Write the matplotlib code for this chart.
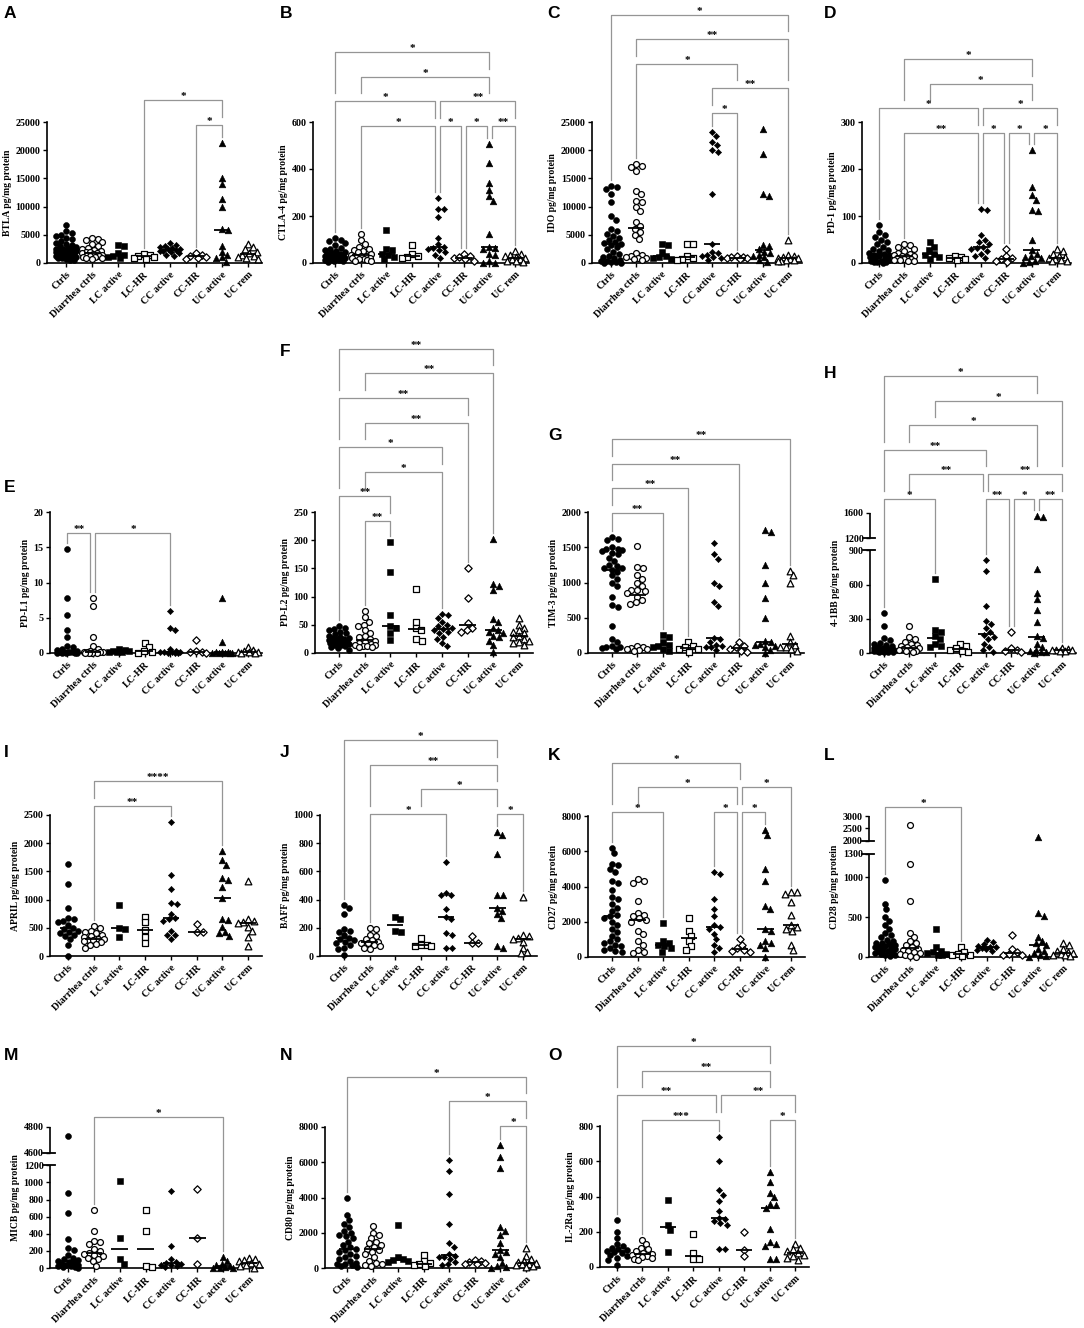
import numpy as np
import matplotlib
matplotlib.use("Agg")
import matplotlib.pyplot as plt
from matplotlib.transforms import blended_transform_factory

plt.rcParams['font.family'] = ['Liberation Serif', 'DejaVu Serif']
plt.rcParams['font.weight'] = 'bold'

categories = ["Ctrls", "Diarrhea ctrls", "LC active", "LC-HR", "CC active", "CC-HR", "UC active", "UC rem"]

btla = [
    [6800, 5600, 5300, 5000, 4700, 4500, 4200, 3900, 3600, 3400, 3200, 3000, 2800, 2600, 2500, 2400, 2300, 2200,
     2100, 2000, 1900, 1800, 1700, 1600, 1500, 1400, 1300, 1200, 1100, 1000, 900, 800, 700, 600, 500],
    [4500, 4300, 4100, 3700, 3400, 3000, 2700, 2500, 2300, 2100, 2000, 1900, 1800, 1700, 1600, 1500, 1400, 1300,
     1200, 1100, 1000, 900, 800, 700],
    [3200, 3000, 1800, 1500, 1300, 1100, 900],
    [1600, 1500, 1300, 1100, 900, 700],
    [3500, 3200, 3000, 2800, 2600, 2500, 2400, 2300, 2200, 2100, 2000, 1800, 1500, 1200],
    [1700, 1500, 1300, 1100, 900, 700],
    [21200, 15000, 14000, 11300, 10000, 6100, 5800, 3000, 2000, 1500, 1000, 800, 200],
    [3300, 2800, 2400, 2000, 1700, 1500, 1300, 1100, 900, 700],
]
ctla4 = [
    [105, 100, 95, 85, 75, 65, 60, 55, 50, 45, 42, 40, 38, 36, 34, 32, 30, 28, 26, 24, 22, 20, 18, 16, 14, 12, 10, 8, 6],
    [125, 100, 80, 70, 60, 55, 50, 45, 40, 35, 30, 28, 25, 22, 20, 18, 15, 12, 10, 8],
    [140, 60, 55, 40, 35, 25, 15],
    [75, 40, 30, 25, 20],
    [275, 230, 230, 195, 105, 80, 70, 65, 60, 55, 45, 35, 20],
    [40, 30, 25, 20, 15, 10],
    [505, 425, 340, 310, 285, 265, 125, 70, 65, 60, 40, 35, 10, 0, 0],
    [50, 40, 35, 30, 25, 20, 18, 15, 10, 8, 5],
]
ido = [
    [13700, 13400, 13200, 12200, 10800, 8300, 7700, 6000, 5700, 5200, 4800, 4400, 4000, 3700, 3500, 3400, 3200,
     2800, 2400, 2000, 1600, 1300, 1000, 800, 600, 400, 300, 200, 100, 50, 20],
    [17500, 17200, 17000, 16300, 12800, 12200, 11000, 10800, 10000, 9300, 7200, 6500, 6000, 5500, 5000, 4200,
     1800, 1500, 1200, 1000, 900, 800, 700, 600],
    [3300, 3200, 2000, 1300, 1100, 900, 700],
    [3300, 3300, 1200, 900, 700, 600],
    [23300, 22500, 21500, 21000, 20000, 19700, 12300, 3300, 2000, 1700, 1400, 1200, 1000, 800, 600],
    [1200, 1100, 1000, 900, 800, 700],
    [23700, 19400, 12200, 11800, 3200, 3100, 2500, 2000, 1800, 1500, 1200, 1000, 500, 100],
    [4000, 1500, 1200, 1000, 900, 800, 700, 600, 500, 400, 300],
]
pd1 = [
    [80, 65, 60, 55, 50, 45, 40, 35, 30, 28, 25, 22, 20, 18, 16, 14, 12, 10, 8, 6, 5, 4, 3, 2, 2, 1],
    [40, 38, 35, 30, 25, 22, 20, 18, 15, 14, 12, 10, 9, 8, 7, 6, 5, 4],
    [45, 35, 28, 20, 18, 12, 8],
    [15, 12, 10, 8, 6],
    [115, 112, 60, 50, 45, 40, 35, 32, 30, 25, 20, 15, 10],
    [30, 15, 10, 8, 5, 3],
    [240, 162, 145, 135, 112, 110, 50, 28, 20, 15, 12, 10, 5, 2, 0],
    [30, 25, 20, 15, 12, 10, 8, 6, 5, 4],
]
pdl1 = [
    [14.7, 7.8, 5.4, 3.2, 2.3, 1.0, 0.8, 0.5, 0.4, 0.3, 0.2, 0.2, 0.1, 0.1, 0.1, 0.05, 0.05, 0.05, 0, 0],
    [7.8, 6.7, 2.3, 1.0, 0.5, 0.3, 0.2, 0.2, 0.1, 0.1, 0.1, 0.05, 0.05, 0, 0],
    [0.5, 0.4, 0.3, 0.3, 0.2, 0.2, 0.1],
    [1.4, 0.8, 0.3, 0.1, 0.05],
    [6.0, 3.6, 3.2, 0.5, 0.3, 0.2, 0.2, 0.1, 0.1, 0.05, 0.05, 0],
    [1.8, 0.3, 0.2, 0.1, 0.05],
    [7.8, 1.6, 0.2, 0.1, 0.1, 0.05, 0.05, 0, 0, 0],
    [0.9, 0.4, 0.3, 0.2, 0.1, 0.1, 0.05, 0.05],
]
pdl2 = [
    [48, 45, 42, 40, 38, 35, 33, 30, 28, 27, 26, 25, 24, 23, 22, 21, 20, 19, 18, 17, 16, 15, 14, 12, 10, 8, 6],
    [75, 63, 55, 50, 48, 40, 35, 30, 28, 25, 22, 20, 18, 16, 15, 14, 13, 12, 11, 10],
    [197, 143, 67, 47, 45, 35, 23],
    [113, 55, 45, 40, 25, 22],
    [70, 68, 62, 55, 50, 48, 45, 42, 40, 38, 35, 28, 25, 18, 12],
    [150, 98, 53, 45, 40, 38],
    [202, 122, 118, 112, 60, 55, 45, 40, 38, 35, 30, 28, 22, 15, 2],
    [62, 50, 45, 40, 38, 35, 30, 28, 25, 22, 20, 18, 15],
]
tim3 = [
    [1650, 1620, 1600, 1500, 1480, 1470, 1460, 1450, 1420, 1400, 1350, 1300, 1250, 1230, 1210, 1200, 1180, 1150,
     1100, 1050, 1000, 950, 800, 680, 650, 380, 200, 150, 100, 90, 80, 70, 60],
    [1520, 1220, 1200, 1100, 1050, 1000, 950, 900, 900, 880, 850, 800, 750, 720, 700, 100, 80, 70, 60, 50, 40, 30],
    [250, 220, 150, 120, 100, 80, 50, 30],
    [150, 100, 80, 60, 50, 20],
    [1560, 1400, 1340, 1000, 950, 720, 660, 210, 200, 150, 120, 100, 90, 80, 40],
    [150, 100, 80, 50, 30, 20],
    [1740, 1720, 1250, 990, 780, 500, 170, 150, 130, 120, 100, 80, 40, 0],
    [1170, 1100, 990, 240, 150, 110, 90, 80, 50, 30],
]
ibb4 = [
    [355, 235, 130, 110, 90, 80, 70, 60, 50, 45, 40, 35, 30, 28, 25, 22, 20, 18, 15, 12, 10, 8, 5],
    [240, 140, 120, 100, 80, 70, 60, 50, 45, 40, 35, 30, 25, 20, 15, 10],
    [645, 200, 180, 150, 120, 80, 60, 50],
    [80, 60, 40, 30, 20, 10],
    [820, 720, 410, 280, 250, 220, 180, 160, 140, 120, 80, 50, 30, 10],
    [180, 40, 30, 20, 10],
    [1560, 1540, 740, 530, 470, 380, 270, 150, 130, 80, 50, 30, 20, 10, 5, 0],
    [40, 35, 30, 28, 25, 20, 15],
]
april = [
    [1640, 1280, 850, 680, 650, 620, 600, 550, 500, 480, 450, 420, 400, 380, 350, 300, 200, 0],
    [540, 500, 450, 420, 400, 380, 350, 330, 310, 300, 290, 280, 260, 240, 220, 200, 150],
    [900, 500, 480, 330],
    [700, 600, 460, 330, 230],
    [2370, 1430, 1180, 940, 930, 750, 680, 650, 620, 450, 380, 370, 300],
    [560, 430, 420],
    [1860, 1700, 1620, 1380, 1340, 1230, 1030, 650, 640, 520, 430, 400, 360],
    [1330, 650, 620, 600, 580, 520, 450, 330, 170],
]
baff = [
    [360, 340, 300, 190, 180, 170, 150, 130, 120, 110, 100, 90, 80, 60, 50, 10],
    [200, 190, 150, 140, 120, 110, 100, 95, 90, 80, 70, 60, 50],
    [280, 260, 180, 170],
    [130, 80, 75, 70, 70],
    [665, 450, 430, 430, 330, 280, 260, 160, 150, 60, 60],
    [145, 95, 95],
    [880, 860, 720, 430, 430, 340, 320, 300, 270, 70, 60],
    [420, 150, 140, 130, 120, 100, 60, 30, 20],
]
cd27 = [
    [6200, 5900, 5300, 5200, 5000, 4800, 4300, 4200, 3800, 3400, 3300, 3000, 2800, 2600, 2400, 2300, 2200, 2000,
     1800, 1600, 1400, 1200, 1000, 900, 800, 700, 600, 500, 400, 350, 300],
    [4400, 4300, 4200, 3200, 2500, 2400, 2300, 2200, 2100, 2000, 1500, 1300, 900, 700, 400, 300, 200],
    [1950, 900, 800, 700, 600, 500, 300],
    [2200, 1500, 1200, 900, 600, 400],
    [4800, 4700, 3300, 2700, 2300, 1800, 1700, 1600, 1300, 1000, 700, 500, 300],
    [1000, 700, 500, 400, 350, 300],
    [7200, 6900, 5000, 4300, 2900, 2700, 1600, 1500, 900, 800, 700, 500, 0],
    [3700, 3700, 3600, 3100, 2400, 1800, 1700, 1600, 1500, 700, 400],
]
cd28 = [
    [970, 670, 600, 500, 450, 400, 350, 300, 280, 250, 220, 200, 180, 170, 160, 150, 140, 130, 120, 110, 100, 90,
     80, 70, 60, 50, 40, 30, 20, 10],
    [2650, 1170, 700, 300, 250, 200, 180, 150, 120, 100, 90, 80, 60, 50, 40, 20, 10, 5],
    [350, 120, 80, 60, 50, 40, 30, 20],
    [120, 60, 40, 30, 20, 10],
    [220, 190, 160, 140, 130, 120, 110, 100, 90, 80],
    [280, 100, 60, 40, 30, 20],
    [2150, 550, 520, 250, 200, 180, 150, 100, 80, 50, 30, 10, 5],
    [180, 150, 100, 80, 60, 50, 40, 30, 20, 10],
]
micb = [
    [4730, 880, 640, 340, 230, 210, 150, 120, 100, 90, 80, 70, 60, 50, 40, 30, 25, 20, 15, 10, 5],
    [680, 430, 320, 300, 280, 220, 200, 180, 160, 150, 140, 120, 100, 80, 20],
    [1020, 350, 100, 50],
    [680, 430, 20, 10],
    [900, 260, 100, 70, 60, 50, 40, 30, 20, 10],
    [920, 350, 50],
    [130, 80, 50, 30, 20, 10, 5, 0, 0],
    [120, 100, 90, 80, 60, 50, 30, 20, 5],
]
cd80 = [
    [4000, 3000, 2700, 2500, 2300, 2100, 2000, 1900, 1800, 1700, 1500, 1300, 1200, 1100, 1000, 900, 800, 700, 600,
     500, 400, 300, 250, 200, 150, 100, 50],
    [2400, 2000, 1900, 1700, 1500, 1400, 1300, 1200, 1100, 1000, 900, 800, 600, 400, 300, 200, 150, 100],
    [2430, 650, 500, 450, 400, 350],
    [750, 400, 300, 200, 150, 100],
    [6100, 5500, 4200, 2500, 1400, 1200, 800, 700, 650, 600, 500, 350, 200, 150],
    [450, 400, 350, 300, 250, 200],
    [7000, 6300, 5700, 2300, 2100, 1900, 1400, 1000, 900, 800, 600, 300, 100, 50, 0],
    [1150, 700, 500, 400, 350, 300, 250, 200, 150, 100, 50],
]
il2ra = [
    [265, 200, 165, 130, 120, 110, 100, 95, 90, 85, 80, 70, 60, 50, 40, 10],
    [155, 130, 110, 100, 90, 80, 75, 70, 65, 60, 55, 50, 45, 40],
    [380, 240, 210, 85],
    [190, 80, 45, 45],
    [735, 600, 435, 410, 375, 320, 280, 270, 260, 250, 240, 100, 100],
    [200, 95, 60],
    [540, 480, 420, 395, 360, 350, 335, 215, 140, 130, 120, 45, 45],
    [130, 110, 100, 90, 80, 70, 60, 50, 40],
]

# significance brackets: (group i, group j, label, stacking level)
br_A = [(5, 6, '*', 0), (3, 6, '*', 1)]
br_B = [(1, 4, '*', 0), (4, 5, '*', 0), (5, 6, '*', 0), (6, 7, '**', 0), (0, 4, '*', 1), (4, 7, '**', 1),
        (1, 6, '*', 2), (0, 6, '*', 3)]
br_C = [(4, 5, '*', 0), (4, 7, '**', 1), (1, 5, '*', 2), (1, 7, '**', 3), (0, 7, '*', 4)]
br_D = [(1, 4, '**', 0), (4, 5, '*', 0), (5, 6, '*', 0), (6, 7, '*', 0), (0, 4, '*', 1), (4, 7, '*', 1),
        (2, 6, '*', 2), (1, 6, '*', 3)]
br_E = [(0, 1, '**', 0), (1, 4, '*', 0)]
br_F = [(1, 2, '**', 0), (0, 2, '**', 1), (1, 4, '*', 2), (0, 4, '*', 3), (1, 5, '**', 4), (0, 5, '**', 5),
        (1, 6, '**', 6), (0, 6, '**', 7)]
br_G = [(0, 2, '**', 0), (0, 3, '**', 1), (0, 5, '**', 2), (0, 7, '**', 3)]
br_H = [(0, 2, '*', 0), (4, 5, '**', 0), (5, 6, '*', 0), (6, 7, '**', 0), (1, 4, '**', 1), (4, 7, '**', 1),
        (0, 4, '**', 2), (1, 6, '*', 3), (2, 7, '*', 4), (0, 6, '*', 5)]
br_I = [(1, 4, '**', 0), (1, 6, '****', 1)]
br_J = [(1, 4, '*', 0), (6, 7, '*', 0), (3, 6, '*', 1), (1, 6, '**', 2), (0, 6, '*', 3)]
br_K = [(0, 2, '*', 0), (4, 5, '*', 0), (5, 6, '*', 0), (1, 5, '*', 1), (5, 7, '*', 1), (0, 5, '*', 2)]
br_L = [(0, 3, '*', 0)]
br_M = [(1, 6, '*', 0)]
br_N = [(6, 7, '*', 0), (4, 7, '*', 1), (0, 7, '*', 2)]
br_O = [(1, 4, '***', 0), (6, 7, '*', 0), (0, 4, '**', 1), (4, 7, '**', 1), (1, 6, '**', 2), (0, 6, '*', 3)]

W, H = 1084, 1328
fig = plt.figure(figsize=(W / 100, H / 100), dpi=100)

markers = ['o', 'o', 's', 's', 'D', 'D', '^', '^']
filled = [True, False, True, False, True, False, True, False]
msize = [18, 18, 21, 23, 10, 14, 23, 23]
STEP = 24.6
BR_COLOR = '#959595'


def broken_funcs(bv, bf):
    bv = np.asarray(bv, float)
    bf = np.asarray(bf, float)

    def pw(v, xs, ys):
        v = np.asarray(v, float)
        out = np.interp(v, xs, ys)
        lo_s = (ys[1] - ys[0]) / (xs[1] - xs[0])
        hi_s = (ys[-1] - ys[-2]) / (xs[-1] - xs[-2])
        out = np.where(v < xs[0], ys[0] + (v - xs[0]) * lo_s, out)
        out = np.where(v > xs[-1], ys[-1] + (v - xs[-1]) * hi_s, out)
        return out

    return (lambda v: pw(v, bv, bf)), (lambda f: pw(f, bf, bv))


def swarm(ypix, d, maxoff):
    ypix = np.asarray(ypix, float)
    order = np.argsort(-ypix, kind='stable')
    steps = np.arange(1, int(maxoff) + 1, 1.0)
    cands = [0.0]
    for s in steps:
        cands += [s, -s]
    placed = []
    offs = np.zeros(len(ypix))
    for k in order:
        y = ypix[k]
        best, bestd = 0.0, -1.0
        for c in cands:
            md = min([np.hypot(c - px, y - py) for px, py in placed], default=1e9)
            if md >= d:
                best = c
                break
            if md > bestd:
                bestd, best = md, c
        offs[k] = best
        placed.append((best, y))
    return offs


def panel(letter, letter_xy, values, ylabel, yticks, ymax, brackets, lay, broken=None):
    yax, c0, c7, y0, ytop, base = lay
    sp = (c7 - c0) / 7.0
    xl = -(c0 - yax) / sp
    xr = 7.55
    axw = (xr - xl) * sp
    axh = y0 - ytop
    ax = fig.add_axes([yax / W, 1 - y0 / H, axw / W, axh / H])
    if broken is not None:
        fwd, inv = broken_funcs(*broken)
        ax.set_yscale('function', functions=(fwd, inv))
    ax.set_xlim(xl, xr)
    ax.set_ylim(0, ymax)
    ax.set_yticks(yticks)
    ax.set_yticklabels([str(t) for t in yticks])
    ax.set_xticks(range(8))
    ax.set_xticklabels(categories, rotation=45, ha='right', va='top', rotation_mode='anchor',
                       fontsize=7.4, fontweight='bold')
    for s in ['top', 'right']:
        ax.spines[s].set_visible(False)
    ax.spines['bottom'].set_linewidth(1.2)
    ax.spines['left'].set_linewidth(1.2)
    ax.tick_params(axis='both', direction='out', length=3, width=1.0, labelsize=7.2, pad=1.5)
    ax.tick_params(axis='x', pad=2)
    for lab in ax.get_yticklabels():
        lab.set_fontweight('bold')
    ax.set_ylabel(ylabel, fontsize=6.9, fontweight='bold', labelpad=2.5)

    if broken is not None:
        ax.spines['left'].set_visible(False)
        bt = blended_transform_factory(ax.transAxes, ax.transData)
        bv = broken[0]
        ax.plot([0, 0], [0, bv[1]], transform=bt, color='black', lw=1.2, clip_on=False, solid_capstyle='butt')
        ax.plot([0, 0], [bv[2], bv[3]], transform=bt, color='black', lw=1.2, clip_on=False, solid_capstyle='butt')
        for v in (bv[1], bv[2]):
            ax.plot([-7 / axw, 5 / axw], [v, v], transform=bt, color='black', lw=1.3, clip_on=False)

    bottom_disp = H - y0
    dmax_px = []
    for i, vals in enumerate(values):
        vals = np.asarray(vals, float)
        ypix = ax.transData.transform(np.column_stack([np.full(len(vals), i), vals]))[:, 1]
        offs = swarm(ypix, 5.6, 0.42 * sp)
        xs = i + offs / sp
        if filled[i]:
            ax.scatter(xs, vals, s=msize[i], marker=markers[i], facecolor='black', edgecolor='black',
                       linewidths=0.4, clip_on=False, zorder=3)
        else:
            ax.scatter(xs, vals, s=msize[i], marker=markers[i], facecolor='white', edgecolor='black',
                       linewidths=0.9, clip_on=False, zorder=3)
        med = np.median(vals)
        ax.plot([i - 0.32, i + 0.32], [med, med], color='black', lw=1.3, zorder=4, solid_capstyle='butt')
        dmax_px.append(ypix.max() - bottom_disp)

    trans = blended_transform_factory(ax.transData, ax.transAxes)
    shift = 2.5 / sp
    for (i, j, lab, lev) in brackets:
        line = axh + base + lev * STEP
        same = [b for b in brackets if b[3] == lev and b != (i, j, lab, lev)]
        xi = i + (shift if any(b[0] == i or b[1] == i for b in same) else 0)
        xj = j - (shift if any(b[0] == j or b[1] == j for b in same) else 0)
        legs = []
        for c in (i, j):
            bot = dmax_px[c] + 6
            for b in brackets:
                if b[3] < lev and b[0] <= c <= b[1]:
                    bot = max(bot, axh + base + b[3] * STEP + 8)
            legs.append(min(bot, line))
        ax.plot([xi, xi, xj, xj], [legs[0] / axh, line / axh, line / axh, legs[1] / axh], transform=trans,
                color=BR_COLOR, lw=0.9, clip_on=False, zorder=2)
        ax.text((xi + xj) / 2, (line + 1.0) / axh, lab, transform=trans, ha='center', va='baseline',
                fontsize=8, fontweight='bold', color='black')

    fig.text(letter_xy[0] / W, 1 - letter_xy[1] / H, letter, ha='left', va='center', fontsize=12.5,
             fontweight='bold', family='Liberation Sans')
    return ax


panel('A', (4, 13), btla, 'BTLA pg/mg protein', [0, 5000, 10000, 15000, 20000, 25000], 25000, br_A,
      (47, 66, 248, 263, 122, -3))
panel('B', (280, 13), ctla4, 'CTLA-4 pg/mg protein', [0, 200, 400, 600], 600, br_B,
      (313, 335, 515, 263, 122, -4))
panel('C', (547, 13), ido, 'IDO pg/mg protein', [0, 5000, 10000, 15000, 20000, 25000], 25000, br_C,
      (592, 611, 788, 263, 122, 9))
panel('D', (824, 13), pd1, 'PD-1 pg/mg protein', [0, 100, 200, 300], 300, br_D,
      (862, 879, 1057, 263, 122, -11))

panel('E', (4, 487), pdl1, 'PD-L1 pg/mg protein', [0, 5, 10, 15, 20], 20, br_E,
      (50, 67, 248, 653, 512, -21))
panel('F', (280, 352), pdl2, 'PD-L2 pg/mg protein', [0, 50, 100, 150, 200, 250], 250, br_F,
      (315, 339, 519, 653, 512, -9))
panel('G', (548, 436), tim3, 'TIM-3 pg/mg protein', [0, 500, 1000, 1500, 2000], 2000, br_G,
      (588, 612, 790, 653, 512, -1))
panel('H', (824, 373), ibb4, '4-1BB pg/mg protein', [0, 300, 600, 900, 1200, 1600], 1600, br_H,
      (870, 884, 1062, 653, 513, 14), broken=([0, 900, 1200, 1600], [0, 0.733, 0.821, 1.0]))

panel('I', (4, 753), april, 'APRIL pg/mg protein', [0, 500, 1000, 1500, 2000, 2500], 2500, br_I,
      (50, 68, 248, 956, 815, 9))
panel('J', (280, 753), baff, 'BAFF pg/mg protein', [0, 200, 400, 600, 800, 1000], 1000, br_J,
      (320, 344, 523, 956, 815, 1))
panel('K', (548, 755), cd27, 'CD27 pg/mg protein', [0, 2000, 4000, 6000, 8000], 8000, br_K,
      (588, 612, 791, 957, 816, 4))
panel('L', (824, 755), cd28, 'CD28 pg/mg protein', [0, 500, 1000, 1300, 2000, 2500, 3000], 3000, br_L,
      (869, 885, 1063, 957, 816, 9), broken=([0, 1300, 2000, 3000], [0, 0.733, 0.823, 1.0]))

panel('M', (4, 1055), micb, 'MICB pg/mg protein', [0, 200, 400, 600, 800, 1000, 1200, 4600, 4800], 4800, br_M,
      (50, 68, 249, 1268, 1127, 10), broken=([0, 1200, 4600, 4800], [0, 0.728, 0.816, 1.0]))
panel('N', (280, 1055), cd80, 'CD80 pg/mg protein', [0, 2000, 4000, 6000, 8000], 8000, br_N,
      (325, 347, 526, 1268, 1127, 1))
panel('O', (548, 1055), il2ra, 'IL-2Ra pg/mg protein', [0, 200, 400, 600, 800], 800, br_O,
      (600, 617, 795, 1267, 1126, 6))

fig.savefig('out.png', dpi=100)
